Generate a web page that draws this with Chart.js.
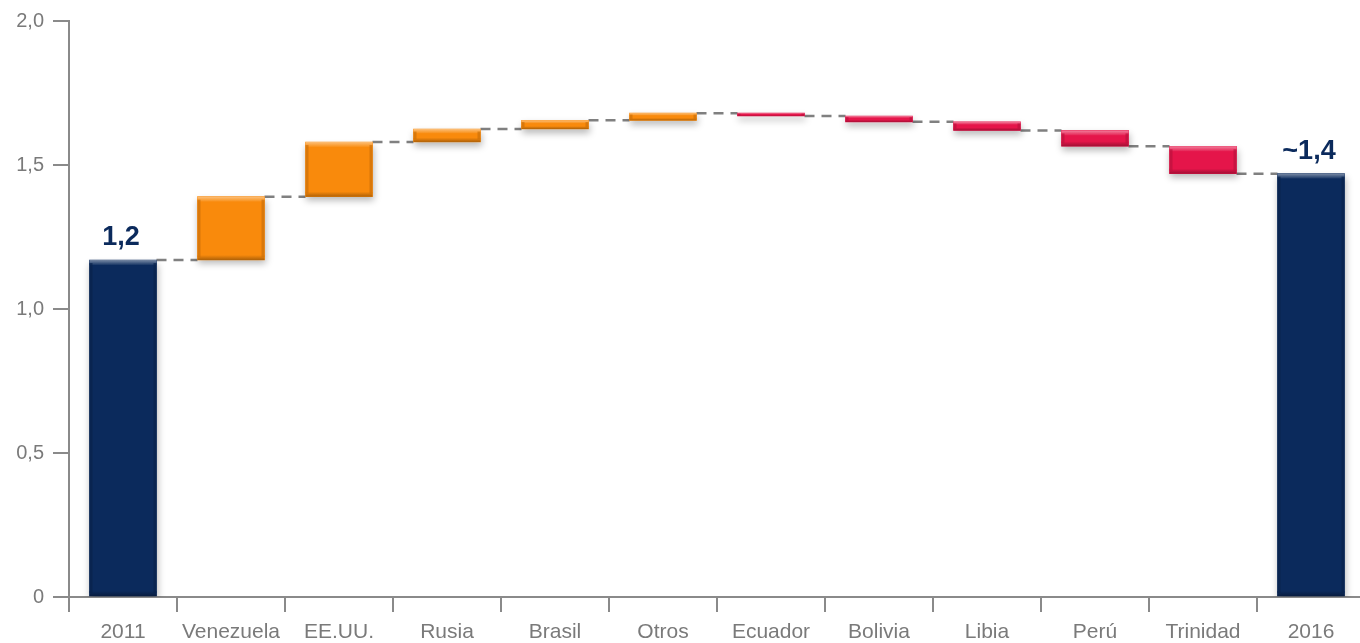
<!DOCTYPE html>
<html>
<head>
<meta charset="utf-8">
<title>Waterfall 2011–2016</title>
<script src="https://cdn.jsdelivr.net/npm/chart.js@4/dist/chart.umd.min.js"></script>
<style>
  html, body { margin: 0; padding: 0; background: #ffffff; overflow: hidden; }
  #wrap { position: relative; width: 1366px; height: 643px; }
</style>
</head>
<body>
<div id="wrap"><canvas id="chart"></canvas></div>
<script>
// Categories along the x axis
const categories = ['2011', 'Venezuela', 'EE.UU.', 'Rusia', 'Brasil', 'Otros',
                    'Ecuador', 'Bolivia', 'Libia', 'Perú', 'Trinidad', '2016'];
// Opening total, per-country changes (Venezuela … Trinidad) and closing total
const startTotal = 1.17;
const changes = [0.22, 0.19, 0.045, 0.03, 0.025, -0.01, -0.02, -0.03, -0.055, -0.095];
const endTotal = 1.47;
// Text shown above the two total bars
const totalLabels = ['1,2', '~1,4'];
// Y axis range and step
const yTicks = [0, 0.5, 1.0, 1.5, 2.0];

const NAVY = '#0b2a5c', ORANGE = '#f98a0c', PINK = '#e5154a';

// Build floating [low, high] ranges and the running level after each bar
const ranges = [];
const levels = [];
const colors = [];
const labelsText = [];
let level = startTotal;
ranges.push([0, startTotal]); levels.push(startTotal); colors.push(NAVY); labelsText.push(totalLabels[0]);
changes.forEach(d => {
  const next = level + d;
  ranges.push([Math.min(level, next), Math.max(level, next)]);
  levels.push(next);
  colors.push(d >= 0 ? ORANGE : PINK);
  labelsText.push('');
  level = next;
});
ranges.push([0, endTotal]); levels.push(endTotal); colors.push(NAVY); labelsText.push(totalLabels[1]);

function shade(hex, amt) {
  const n = parseInt(hex.slice(1), 16);
  let r = (n >> 16) & 255, g = (n >> 8) & 255, b = n & 255;
  const f = c => Math.max(0, Math.min(255, Math.round(amt >= 0 ? c + (255 - c) * amt : c * (1 + amt))));
  return `rgb(${f(r)},${f(g)},${f(b)})`;
}

// Dashed connectors between consecutive bars, drawn under the bars
const connectorPlugin = {
  id: 'connectors',
  beforeDatasetsDraw(chart) {
    const meta = chart.getDatasetMeta(0);
    const y = chart.scales.y;
    const ctx = chart.ctx;
    ctx.save();
    ctx.strokeStyle = '#808080';
    ctx.lineWidth = 2.5;
    ctx.setLineDash([10, 7]);
    for (let i = 0; i < meta.data.length - 1; i++) {
      const a = meta.data[i], b = meta.data[i + 1];
      const py = y.getPixelForValue(levels[i]);
      ctx.beginPath();
      ctx.moveTo(a.x + a.width / 2, py);
      ctx.lineTo(b.x - b.width / 2, py);
      ctx.stroke();
    }
    ctx.restore();
  }
};

// Soft drop shadow under each bar
const shadowPlugin = {
  id: 'barShadow',
  beforeDatasetDraw(chart) {
    const ctx = chart.ctx;
    ctx.save();
    ctx.shadowColor = 'rgba(0,0,0,0.28)';
    ctx.shadowBlur = 7;
    ctx.shadowOffsetX = 1;
    ctx.shadowOffsetY = 4;
  },
  afterDatasetDraw(chart) {
    chart.ctx.restore();
  }
};

// Bevelled edges on every bar plus the total labels
const bevelPlugin = {
  id: 'bevel',
  afterDatasetsDraw(chart) {
    const meta = chart.getDatasetMeta(0);
    const ctx = chart.ctx;
    ctx.save();
    meta.data.forEach((bar, i) => {
      const left = bar.x - bar.width / 2, right = bar.x + bar.width / 2;
      const top = Math.min(bar.y, bar.base), bottom = Math.max(bar.y, bar.base);
      const h = bottom - top, w = right - left;
      const c = colors[i];
      const edge = Math.min(5, h / 3);
      // top highlight
      let g = ctx.createLinearGradient(0, top, 0, top + edge);
      g.addColorStop(0, shade(c, 0.45));
      g.addColorStop(1, shade(c, 0.05));
      ctx.fillStyle = g;
      ctx.fillRect(left, top, w, edge);
      // bottom darker rim
      g = ctx.createLinearGradient(0, bottom - edge, 0, bottom);
      g.addColorStop(0, shade(c, 0));
      g.addColorStop(1, shade(c, -0.3));
      ctx.fillStyle = g;
      ctx.fillRect(left, bottom - edge, w, edge);
      // side rims
      const se = Math.min(3, w / 6);
      ctx.fillStyle = shade(c, -0.18);
      ctx.globalAlpha = 0.7;
      ctx.fillRect(left, top + edge * 0.6, se, h - edge * 1.2);
      ctx.fillRect(right - se, top + edge * 0.6, se, h - edge * 1.2);
      ctx.globalAlpha = 1;

      if (labelsText[i]) {
        ctx.fillStyle = NAVY;
        ctx.font = 'bold 27px "Liberation Sans", Arial, sans-serif';
        ctx.textAlign = 'center';
        ctx.textBaseline = 'alphabetic';
        ctx.fillText(labelsText[i], bar.x - 2, top - 15);
      }
    });
    ctx.restore();
  }
};

const axisGray = '#8a8a8a';
const xFont = { family: '"Liberation Sans", Arial, sans-serif', size: 21 };
const yFont = { family: '"Liberation Sans", Arial, sans-serif', size: 20 };

new Chart(document.getElementById('chart'), {
  type: 'bar',
  data: {
    labels: categories,
    datasets: [{
      data: ranges,
      backgroundColor: colors,
      borderWidth: 0,
      barThickness: 67,
      borderSkipped: false
    }]
  },
  options: {
    responsive: true,
    maintainAspectRatio: false,
    animation: false,
    layout: { padding: { top: 20, right: 1, left: 0, bottom: 0 } },
    plugins: { legend: { display: false }, tooltip: { enabled: false } },
    scales: {
      x: {
        offset: true,
        grid: { offset: true, drawOnChartArea: false, drawTicks: true, tickLength: 15, color: axisGray, lineWidth: 2 },
        border: { display: true, color: axisGray, width: 2 },
        ticks: { color: '#7a7a7a', font: xFont, padding: 8, maxRotation: 0, autoSkip: false },
        afterFit(s) { s.height = 46; }
      },
      y: {
        min: yTicks[0],
        max: yTicks[yTicks.length - 1],
        afterBuildTicks(s) { s.ticks = yTicks.map(v => ({ value: v })); },
        grid: { drawOnChartArea: false, drawTicks: true, tickLength: 16, color: axisGray, lineWidth: 2 },
        border: { display: true, color: axisGray, width: 2 },
        ticks: {
          color: '#7a7a7a', font: yFont, padding: 9,
          callback: v => v === 0 ? '0' : v.toFixed(1).replace('.', ',')
        },
        afterFit(s) { s.width = 69; }
      }
    }
  },
  plugins: [connectorPlugin, shadowPlugin, bevelPlugin]
});
</script>
</body>
</html>
